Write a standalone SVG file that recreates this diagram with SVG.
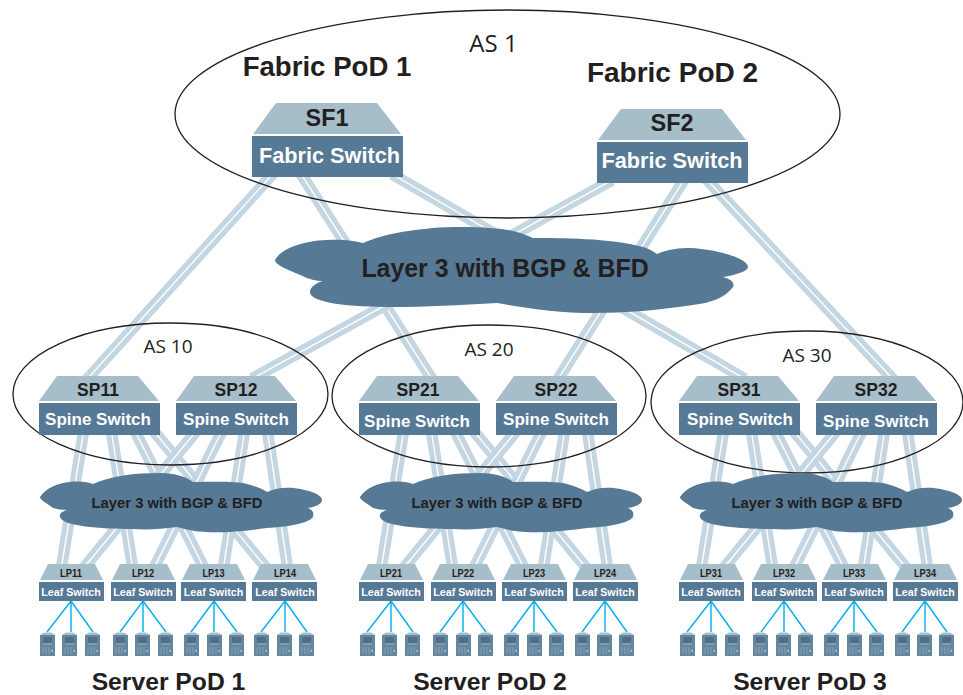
<svg xmlns="http://www.w3.org/2000/svg" width="963" height="695" viewBox="0 0 963 695">
<style>
text{font-family:"Liberation Sans",Arial,sans-serif;font-weight:700;fill:#231f20;text-anchor:middle}
.as{font-family:"Open Sans","Noto Sans",sans-serif;font-weight:400;font-size:19px}
.title{font-size:27.6px}
.title2{font-size:28px}
.pod{font-size:24.7px}
.sf{font-size:23.4px}
.fs{font-size:21.7px;fill:#fff}
.sp{font-size:17.5px}
.ss{font-size:17px;fill:#fff}
.lp{font-size:10px}
.ls{font-size:10.7px;fill:#fff}
.c1{font-size:24.9px}
.c2{font-size:15.5px}
.b{stroke:#c3d6e2;stroke-width:11.5;fill:none;stroke-linecap:square}
.w{stroke:#fff;stroke-width:1.4;fill:none;stroke-linecap:square}
.wire{stroke:#00aeef;stroke-width:1.4;fill:none}
.ring{fill:none;stroke:#231f20;stroke-width:1.3}
.top{fill:#a6bdca}
.front{fill:#567996}
.cloud{fill:#567996}
</style>
<defs>
<g id="podlinks">
<path class="b" d="M83 435L62 564"/><path class="w" d="M83 435L62 564"/>
<path class="b" d="M112 435L132 564"/><path class="w" d="M112 435L132 564"/>
<path class="b" d="M137 435L202 564"/><path class="w" d="M137 435L202 564"/>
<path class="b" d="M157 435L263 564"/><path class="w" d="M157 435L263 564"/>
<path class="b" d="M193 435L87 564"/><path class="w" d="M193 435L87 564"/>
<path class="b" d="M220 435L156 564"/><path class="w" d="M220 435L156 564"/>
<path class="b" d="M244 435L224 564"/><path class="w" d="M244 435L224 564"/>
<path class="b" d="M268 435L287 564"/><path class="w" d="M268 435L287 564"/>
</g>
<g id="spine">
<polygon class="top" points="18,376 99,376 120,401 0,401"/>
<rect class="front" x="0" y="403" width="121" height="32"/>
</g>
<g id="leaf">
<polygon class="top" points="9,564 56,564 64,580 1,580"/>
<rect class="front" x="0" y="582" width="65" height="19"/>
</g>
<g id="fabric">
<polygon class="top" points="24,0 125,0 149,31 1,31"/>
<rect class="front" x="0" y="33" width="151" height="41"/>
</g>
<path id="smallcloud" class="cloud" d="M40 497C46 488 58 483 70 482C80 481 88 482 93 484C110 476 135 473 160 473C175 473 187 477 193 482C215 482 235 481 247 484C255 486 262 489 267 492C275 488 285 487 294 488C308 490 322 494 322 500C322 504 315 507 308 508C313 510 314 513 313 517C308 524 285 527 267 528C245 531 225 533 207 532C195 532 185 529 177 527C160 529 148 530 133 529C100 529 62 526 60 517C59 513 63 511 68 510C62 510 57 509 53 508C48 504 40 500 40 497Z"/>
<g id="server">
<polygon points="0,3 4,0.5 11,0.5 15,3" fill="#a6bdca"/>
<rect x="0" y="3" width="15" height="21" fill="#64869f"/>
<rect x="3" y="5.5" width="9" height="1" fill="#3a586f"/>
<rect x="3" y="7.5" width="9" height="1" fill="#3a586f"/>
<rect x="3" y="9.500" width="9" height="1" fill="#3a586f"/>
<rect x="3" y="11.5" width="9" height="1" fill="#9ab1c2"/>
<path d="M3 15V22M6 15V22M9 15V22" stroke="#93abbd" stroke-width="0.8"/>
<rect x="11.5" y="18" width="1.5" height="1.5" fill="#c9d7e0"/>
</g>
</defs>
<g id="connectors">
<path class="b" d="M270 177L90 376"/><path class="w" d="M270 177L90 376"/>
<path class="b" d="M303 177L430 376"/><path class="w" d="M303 177L430 376"/>
<path class="b" d="M397 177L740 376"/><path class="w" d="M397 177L740 376"/>
<path class="b" d="M607 183L257 376"/><path class="w" d="M607 183L257 376"/>
<path class="b" d="M682 183L560 376"/><path class="w" d="M682 183L560 376"/>
<path class="b" d="M710 183L890 376"/><path class="w" d="M710 183L890 376"/>
<use href="#podlinks"/>
<use href="#podlinks" x="320"/>
<use href="#podlinks" x="640"/>
<path class="wire" d="M71 601L47 632M71 601V632M71 601L93 632M143 601L120 632M143 601V632M143 601L166 632M214 601L191 632M214 601V632M214 601L237 632M285 601L261 632M285 601V632M285 601L307 632"/>
<path class="wire" d="M391 601L367 632M391 601V632M391 601L413 632M463 601L440 632M463 601V632M463 601L486 632M534 601L511 632M534 601V632M534 601L557 632M605 601L582 632M605 601V632M605 601L627 632"/>
<path class="wire" d="M711 601L687 632M711 601V632M711 601L733 632M784 601L761 632M784 601V632M784 601L806 632M854 601L831 632M854 601V632M854 601L877 632M925 601L902 632M925 601V632M925 601L947 632"/>
</g>
<g id="regions">
<ellipse class="ring" cx="507.5" cy="114" rx="332.5" ry="104"/>
<ellipse class="ring" cx="170.5" cy="394" rx="157.5" ry="71"/>
<ellipse class="ring" cx="489" cy="396" rx="157" ry="71"/>
<ellipse class="ring" cx="807" cy="402" rx="156" ry="71"/>
<text class="as" style="font-size:24px" x="493.5" y="52">AS 1</text>
<text class="as" x="168" y="353">AS 10</text>
<text class="as" x="489" y="356">AS 20</text>
<text class="as" x="807" y="362">AS 30</text>
<text class="title" x="327" y="76">Fabric PoD 1</text>
<text class="title2" x="672.5" y="82">Fabric PoD 2</text>
</g>
<g id="cloud-core">
<path class="cloud" d="M275 260C280 250 300 241 327 240C342 239 355 241 363 243C385 233 425 227 460 227C485 227 505 229 513 231C522 233 528 236 533 238C560 238 610 238 643 247C650 249 654 252 657 254C668 249 680 248 690 248C715 249 748 258 748 267C748 271 736 275 723 277C731 279 735 283 733 287C725 298 710 303 693 305C660 310 625 313 593 313C560 313 525 308 497 303C460 305 425 307 393 307C350 307 310 303 310 292C310 287 316 283 323 281C315 281 311 279 307 278C295 272 275 266 275 260Z"/>
<text class="c1" x="505" y="277">Layer 3 with BGP &amp; BFD</text>
</g>
<g id="cloud-pod1"><use href="#smallcloud"/><text class="c2" x="177" y="508" textLength="171" lengthAdjust="spacingAndGlyphs">Layer 3 with BGP &amp; BFD</text></g>
<g id="cloud-pod2"><use href="#smallcloud" x="320"/><text class="c2" x="497" y="508" textLength="171" lengthAdjust="spacingAndGlyphs">Layer 3 with BGP &amp; BFD</text></g>
<g id="cloud-pod3"><use href="#smallcloud" x="640"/><text class="c2" x="817" y="508" textLength="171" lengthAdjust="spacingAndGlyphs">Layer 3 with BGP &amp; BFD</text></g>
<g id="SF1"><use href="#fabric" x="252" y="103"/><text class="sf" x="327" y="126">SF1</text><text class="fs" x="329.5" y="163">Fabric Switch</text></g>
<g id="SF2"><use href="#fabric" x="597" y="109"/><text class="sf" x="672" y="131">SF2</text><text class="fs" x="672" y="168">Fabric Switch</text></g>
<g id="SP11"><use href="#spine" x="39"/><text class="sp" x="98" y="396">SP11</text><text class="ss" x="98" y="425">Spine Switch</text></g>
<g id="SP12"><use href="#spine" x="176"/><text class="sp" x="236" y="396">SP12</text><text class="ss" x="236" y="425">Spine Switch</text></g>
<g id="SP21"><use href="#spine" x="359"/><text class="sp" x="418" y="396">SP21</text><text class="ss" x="417" y="427">Spine Switch</text></g>
<g id="SP22"><use href="#spine" x="496"/><text class="sp" x="556" y="396">SP22</text><text class="ss" x="556" y="425">Spine Switch</text></g>
<g id="SP31"><use href="#spine" x="679"/><text class="sp" x="739" y="396">SP31</text><text class="ss" x="740" y="425">Spine Switch</text></g>
<g id="SP32"><use href="#spine" x="816"/><text class="sp" x="876" y="396">SP32</text><text class="ss" x="876" y="427">Spine Switch</text></g>
<g id="LP11"><use href="#leaf" x="39"/><text class="lp" x="71" y="577" textLength="22" lengthAdjust="spacingAndGlyphs">LP11</text><text class="ls" x="71" y="596">Leaf Switch</text></g>
<g id="LP12"><use href="#leaf" x="111"/><text class="lp" x="143" y="577" textLength="22" lengthAdjust="spacingAndGlyphs">LP12</text><text class="ls" x="143" y="596">Leaf Switch</text></g>
<g id="LP13"><use href="#leaf" x="181"/><text class="lp" x="213.5" y="577" textLength="22" lengthAdjust="spacingAndGlyphs">LP13</text><text class="ls" x="213.5" y="596">Leaf Switch</text></g>
<g id="LP14"><use href="#leaf" x="252"/><text class="lp" x="285" y="577" textLength="22" lengthAdjust="spacingAndGlyphs">LP14</text><text class="ls" x="285" y="596">Leaf Switch</text></g>
<g id="LP21"><use href="#leaf" x="359"/><text class="lp" x="391" y="577" textLength="22" lengthAdjust="spacingAndGlyphs">LP21</text><text class="ls" x="391" y="596">Leaf Switch</text></g>
<g id="LP22"><use href="#leaf" x="431"/><text class="lp" x="463" y="577" textLength="22" lengthAdjust="spacingAndGlyphs">LP22</text><text class="ls" x="463" y="596">Leaf Switch</text></g>
<g id="LP23"><use href="#leaf" x="502"/><text class="lp" x="534" y="577" textLength="22" lengthAdjust="spacingAndGlyphs">LP23</text><text class="ls" x="534" y="596">Leaf Switch</text></g>
<g id="LP24"><use href="#leaf" x="573"/><text class="lp" x="605" y="577" textLength="22" lengthAdjust="spacingAndGlyphs">LP24</text><text class="ls" x="605" y="596">Leaf Switch</text></g>
<g id="LP31"><use href="#leaf" x="679"/><text class="lp" x="711" y="577" textLength="22" lengthAdjust="spacingAndGlyphs">LP31</text><text class="ls" x="711" y="596">Leaf Switch</text></g>
<g id="LP32"><use href="#leaf" x="752"/><text class="lp" x="784" y="577" textLength="22" lengthAdjust="spacingAndGlyphs">LP32</text><text class="ls" x="784" y="596">Leaf Switch</text></g>
<g id="LP33"><use href="#leaf" x="822"/><text class="lp" x="854" y="577" textLength="22" lengthAdjust="spacingAndGlyphs">LP33</text><text class="ls" x="854" y="596">Leaf Switch</text></g>
<g id="LP34"><use href="#leaf" x="893"/><text class="lp" x="925" y="577" textLength="22" lengthAdjust="spacingAndGlyphs">LP34</text><text class="ls" x="925" y="596">Leaf Switch</text></g>
<g id="servers-pod1">
<use href="#server" x="40" y="632"/><use href="#server" x="62" y="632"/><use href="#server" x="85" y="632"/>
<use href="#server" x="113" y="632"/><use href="#server" x="135" y="632"/><use href="#server" x="158" y="632"/>
<use href="#server" x="184" y="632"/><use href="#server" x="207" y="632"/><use href="#server" x="229" y="632"/>
<use href="#server" x="254" y="632"/><use href="#server" x="277" y="632"/><use href="#server" x="299" y="632"/>
<text class="pod" x="168.500" y="690">Server PoD 1</text>
</g>
<g id="servers-pod2">
<use href="#server" x="360" y="632"/><use href="#server" x="382" y="632"/><use href="#server" x="405" y="632"/>
<use href="#server" x="433" y="632"/><use href="#server" x="456" y="632"/><use href="#server" x="478" y="632"/>
<use href="#server" x="504" y="632"/><use href="#server" x="527" y="632"/><use href="#server" x="549" y="632"/>
<use href="#server" x="575" y="632"/><use href="#server" x="597" y="632"/><use href="#server" x="619" y="632"/>
<text class="pod" x="490" y="690">Server PoD 2</text>
</g>
<g id="servers-pod3">
<use href="#server" x="680" y="632"/><use href="#server" x="702" y="632"/><use href="#server" x="725" y="632"/>
<use href="#server" x="753" y="632"/><use href="#server" x="776" y="632"/><use href="#server" x="798" y="632"/>
<use href="#server" x="824" y="632"/><use href="#server" x="847" y="632"/><use href="#server" x="869" y="632"/>
<use href="#server" x="895" y="632"/><use href="#server" x="917" y="632"/><use href="#server" x="939" y="632"/>
<text class="pod" x="810" y="690">Server PoD 3</text>
</g>
</svg>
